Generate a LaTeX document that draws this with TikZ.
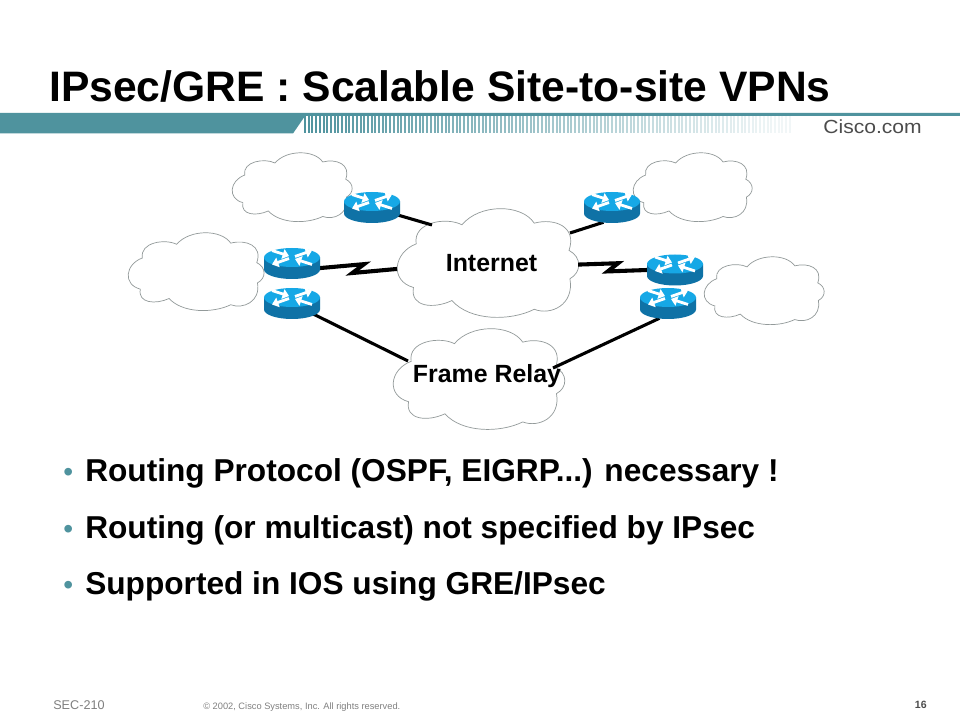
\documentclass[tikz,border=0pt]{standalone}
\usepackage{fontspec}
\setmainfont{Liberation Sans}
\newfontfamily\sitefont[FakeStretch=1.11]{Liberation Sans}
\usetikzlibrary{calc, backgrounds, shapes.geometric, arrows.meta}
\definecolor{barteal}{HTML}{4F939E}
\definecolor{routertop}{HTML}{16A8E6}
\definecolor{routerside}{HTML}{0F72A6}
\definecolor{cloudline}{HTML}{939A9A}
\definecolor{footgray}{HTML}{808080}
\tikzset{x = 0.025cm, y = -0.025cm,
         link/.style = {line width = 2.2pt, black},
         bolt/.style = {line width = 2.9pt, to path = {-- ($(\tikztostart)!.58!(\tikztotarget) + (0,-4.5)$)
                                   -- ($(\tikztostart)!.43!(\tikztotarget) + (0,4.5)$)
                                   -- (\tikztotarget)}},
         swap/.style = {white, line width = 2pt, -{Triangle[length = 4.5pt, width = 7pt]}},
         label/.style = {font = \bfseries\fontsize{17.7}{20}\selectfont, inner sep = 0pt},
         bullet/.style = {font = \bfseries\fontsize{22.5}{26}\selectfont, anchor = base west, inner sep = 0pt},
         dotmark/.style = {font = \fontsize{20}{24}\selectfont, anchor = base west, inner sep = 0pt, text = barteal},
         netcloud/.pic = {
             \path[draw = cloudline, fill = white, line width = 0.5pt]
                 (.105,.32) .. controls (.085,.12) and (.27,.07) .. (.355,.145)
                 .. controls (.45,-.05) and (.68,-.05) .. (.75,.13)
                 .. controls (.86,.08) and (.985,.16) .. (.94,.38)
                 .. controls (1.01,.44) and (1.01,.58) .. (.945,.64)
                 .. controls (.97,.88) and (.84,.98) .. (.75,.92)
                 .. controls (.62,1.03) and (.40,1.03) .. (.30,.84)
                 .. controls (.20,.92) and (.07,.90) .. (.09,.72)
                 .. controls (-.04,.66) and (-.02,.40) .. (.105,.32) -- cycle;
             \coordinate (-w) at (0,.55);
             \coordinate (-e) at (.99,.51);
         },
         router/.pic = {
             \node[ellipse, minimum width = 56*0.025cm, minimum height = 31*0.025cm,
                   inner sep = 0pt, outer sep = 0pt] (-body) at (0,0) {};
             \fill[routerside] (-28,-6) -- (-28,6) arc[x radius = 28, y radius = -9.5, start angle = 180, end angle = 360]
                 -- (28,-6) -- cycle;
             \fill[routertop] (0,-6) ellipse[x radius = 28, y radius = 9.5];
             \draw[swap] (-20,-13) -- (-3,-7.5);
             \draw[swap] (3,-7) -- (20,-13);
             \draw[swap] (-3,-5) -- (-20,1);
             \draw[swap] (20,1) -- (3,-4.5);
         }}
\begin{document}
\begin{tikzpicture}
    \useasboundingbox (0,0) rectangle (960,720);

    % header
    \node[anchor = base west, inner sep = 0pt, font = \bfseries\fontsize{30.3}{34}\selectfont]
        (title) at (49,102) {IPsec/GRE : Scalable Site-to-site VPNs};
    \fill[barteal] (0,113) -- (960,113) -- (960,116) -- (305,116) -- (293,133.5) -- (0,133.5) -- cycle;
    \foreach \i in {0,...,131} {
        \pgfmathsetmacro{\fade}{max(8, 100 - \i * 0.72)}
        \fill[barteal!\fade!white] ({304 + \i * 3.7},116) rectangle ++(2,17.5);
    }
    \node[anchor = base east, inner sep = 0pt, text = black!70, font = \sitefont\fontsize{13.5}{15}\selectfont]
        (site) at (922,134) {Cisco.com};

    % clouds
    \begin{scope}[on background layer]
        \fill[white] (0,0) rectangle (960,720);
        \pic[xscale = 121, yscale = 69] (siteA) at (232,153) {netcloud};
        \pic[xscale = 137, yscale = 78] (siteB) at (128,233) {netcloud};
        \pic[xscale = 120, yscale = 69] (siteC) at (633,153) {netcloud};
        \pic[xscale = 121, yscale = 68] (siteD) at (704,257) {netcloud};
        \pic[xscale = 183, yscale = 109] (inet) at (397,209) {netcloud};
        \pic[xscale = 173, yscale = 101] (frame) at (393,329) {netcloud};
    \end{scope}

    % routers
    \pic (rA) at (372,207.5) {router};
    \pic (rB) at (292,263.5) {router};
    \pic (rC) at (292,303.5) {router};
    \pic (rD) at (612,207.5) {router};
    \pic (rE) at (675,270) {router};
    \pic (rF) at (668,303.5) {router};

    \coordinate (inetA) at (432,225);
    \coordinate (inetD) at (570,233);
    \coordinate (frameC) at (408,361);
    \coordinate (frameF) at (553,368);

    % links
    \begin{scope}[on background layer]
        \draw[link] (rA-body) -- (inetA);
        \draw[link] (rD-body.-120) -- (inetD);
        \draw[link, bolt] (rB-body.-10) to (inet-w);
        \draw[link, bolt] (inet-e) to (rE-body.west);
        \draw[link] (rC-body) -- (frameC);
        \draw[link] (rF-body.-120) -- (frameF);
    \end{scope}

    \node[label] (inettext) at (491.5,263) {Internet};
    \node[label] (frametext) at (487,376.5) {Frame Relay};

    % bullets
    \foreach \ypos/\name/\body in {481.5/bulA/{Routing Protocol (OSPF, EIGRP...) necessary !},
                                   538.5/bulB/{Routing (or multicast) not specified by IPsec},
                                   594.5/bulC/{Supported in IOS using GRE/IPsec}} {
        \node[dotmark] (\name dot) at (63,\ypos) {•};
        \node[bullet] (\name) at (85,\ypos) {\body};
    }

    % footer
    \node[anchor = base west, inner sep = 0pt, text = footgray, font = \fontsize{9}{11}\selectfont]
        (course) at (53,709) {SEC-210};
    \node[anchor = base west, inner sep = 0pt, text = footgray, font = \fontsize{6.6}{8}\selectfont]
        (copy) at (203,709) {© 2002, Cisco Systems, Inc. All rights reserved.};
    \node[anchor = base east, inner sep = 0pt, text = black!70, font = \bfseries\fontsize{7.5}{9}\selectfont]
        (page) at (927,708) {16};
\end{tikzpicture}
\end{document}
